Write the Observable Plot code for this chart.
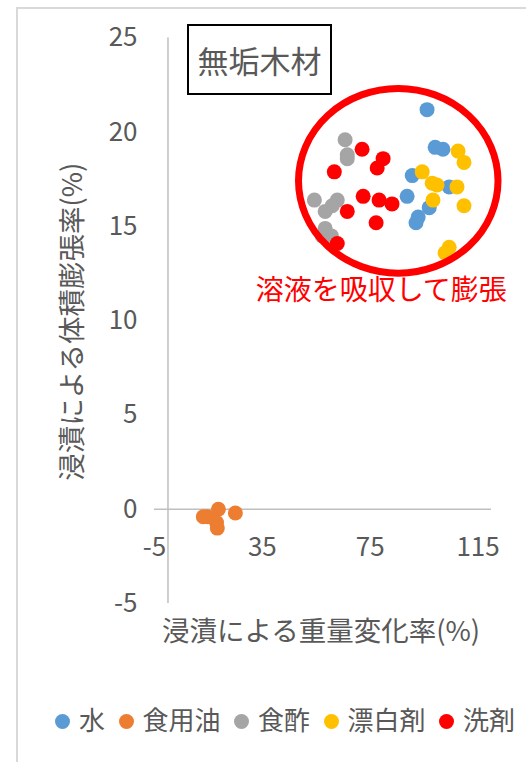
<!DOCTYPE html>
<html>
<head>
<meta charset="utf-8">
<script src="https://cdn.jsdelivr.net/npm/d3@7"></script>
<script src="https://cdn.jsdelivr.net/npm/@observablehq/plot@0.6"></script>
<style>
  html, body { margin: 0; padding: 0; background: #fff; }
  #wrap { position: relative; width: 526px; height: 762px; overflow: hidden; font-family: "Noto Sans CJK JP", "Noto Sans", sans-serif; color: #595959; }
  #border { position: absolute; left: 16px; top: 7px; width: 600px; height: 900px; border-top: 2px solid #D9D9D9; border-left: 2px solid #D9D9D9; }
  #wrap svg { position: absolute; left: 0; top: 0; }
  #titlebox { position: absolute; left: 187px; top: 24px; width: 141px; height: 67px; border: 2px solid #000; background: #fff;
    font-size: 31px; line-height: 67px; text-align: center; color: #595959; }
  #legend { position: absolute; left: 55px; top: 700px; display: flex; align-items: center; font-size: 26px; color: #595959; white-space: nowrap; }
  .item { display: flex; align-items: center; margin-right: 13.5px; }
  .sw { width: 15px; height: 15px; border-radius: 50%; margin-right: 9px; position: relative; top: 3px; }
</style>
</head>
<body>
<div id="wrap"><div id="border"></div></div>
<script>
// ---- data ----
const seriesNames = ["水", "食用油", "食酢", "漂白剤", "洗剤"];
const seriesColors = ["#5B9BD5", "#ED7D31", "#A5A5A5", "#FFC000", "#FF0000"];

// [重量変化率(%), 体積膨張率(%)]
const water = [[96.1, 21.2], [99.1, 19.2], [102.0, 19.1], [90.6, 17.7], [104.3, 17.1],
               [88.7, 16.6], [96.9, 16.0], [92.8, 15.5], [92.0, 15.2]];
const oil = [[18.7, 0.0], [14.6, -0.4], [13.1, -0.4], [18.0, -0.7], [18.3, -1.0], [25.0, -0.2]];
const vinegar = [[65.7, 19.6], [66.5, 18.8], [66.5, 18.6], [54.3, 16.4], [62.8, 16.4],
                 [60.9, 16.1], [58.3, 15.8], [58.3, 14.9], [57.2, 14.5], [60.6, 14.5]];
const bleach = [[107.6, 19.0], [109.8, 18.4], [94.3, 17.9], [98.0, 17.3], [99.8, 17.2],
                [107.2, 17.1], [98.3, 16.4], [109.8, 16.1], [104.3, 13.9], [102.8, 13.6]];
const detergent = [[72.0, 19.1], [79.8, 18.6], [77.6, 18.1], [61.7, 17.9], [72.4, 16.6],
                   [78.3, 16.4], [83.1, 16.2], [66.5, 15.8], [77.2, 15.2], [62.8, 14.1]];

const xTicks = [-5, 35, 75, 115];
const yTicks = [-5, 0, 5, 10, 15, 20, 25];
const xLabel = "浸漬による重量変化率(%)";
const yLabel = "浸漬による体積膨張率(%)";
const chartTitle = "無垢木材";
const noteText = "溶液を吸収して膨張";
const notePos = [79.1, 11.6];
const ringCenter = [85.6, 17.4];
const ringRadius = [37.0, 4.9]; // in data units (x, y)

// ---- build table ----
const allSeries = [water, oil, vinegar, bleach, detergent];
const points = allSeries.flatMap((arr, i) => arr.map(([x, y]) => ({x, y, s: seriesNames[i]})));

const ringMark = (index, scales, values, dimensions, context) => {
  const cx = scales.x(ringCenter[0]), cy = scales.y(ringCenter[1]);
  const rx = Math.abs(scales.x(ringCenter[0] + ringRadius[0]) - cx);
  const ry = Math.abs(scales.y(ringCenter[1] + ringRadius[1]) - cy);
  const g = d3.create("svg:g");
  g.append("ellipse").attr("cx", cx).attr("cy", cy).attr("rx", rx).attr("ry", ry)
    .attr("fill", "none").attr("stroke", "#FF0000").attr("stroke-width", 7);
  return g.node();
};

const chart = Plot.plot({
  width: 526,
  height: 690,
  marginLeft: 154,
  marginRight: 35,
  marginTop: 37.5,
  marginBottom: 87,
  x: {domain: [-5, 120]},
  y: {domain: [-5, 25]},
  color: {domain: seriesNames, range: seriesColors},
  style: {fontFamily: "'Noto Sans CJK JP', 'Noto Sans', sans-serif", fontSize: "26px", color: "#595959", background: "transparent", overflow: "visible"},
  marks: [
    Plot.ruleY([0], {stroke: "#BFBFBF", strokeWidth: 1.5}),
    Plot.ruleX([0], {stroke: "#BFBFBF", strokeWidth: 1.5}),
    Plot.axisY({ticks: yTicks, tickSize: 0, tickPadding: 17, tickFormat: d => String(d), label: null, fill: "#595959"}),
    Plot.axisX({ticks: xTicks, tickSize: 0, tickPadding: 0, dy: -66, tickFormat: d => String(d), label: null, fill: "#595959"}),
    Plot.text([xLabel], {frameAnchor: "bottom", dx: -2, dy: 29, text: d => d, fill: "#595959", fontSize: 27.5, lineAnchor: "middle", textAnchor: "middle"}),
    Plot.text([yLabel], {frameAnchor: "left", dx: -81, dy: 1, rotate: -90, text: d => d, fill: "#595959", fontSize: 27.5, lineAnchor: "middle", textAnchor: "middle"}),
    Plot.dot(points, {x: "x", y: "y", fill: "s", r: 7.5, stroke: "none"}),
    ringMark,
    Plot.text([noteText], {x: () => notePos[0], y: () => notePos[1], text: d => d, fill: "#FF0000", fontSize: 28, lineAnchor: "middle"})
  ]
});

const wrap = document.getElementById("wrap");
wrap.appendChild(chart);

const tb = document.createElement("div");
tb.id = "titlebox";
tb.textContent = chartTitle;
wrap.appendChild(tb);

const lg = document.createElement("div");
lg.id = "legend";
seriesNames.forEach((n, i) => {
  const it = document.createElement("div");
  it.className = "item";
  const sw = document.createElement("span");
  sw.className = "sw";
  sw.style.background = seriesColors[i];
  const t = document.createElement("span");
  t.textContent = n;
  it.appendChild(sw); it.appendChild(t);
  lg.appendChild(it);
});
wrap.appendChild(lg);
</script>
</body>
</html>
